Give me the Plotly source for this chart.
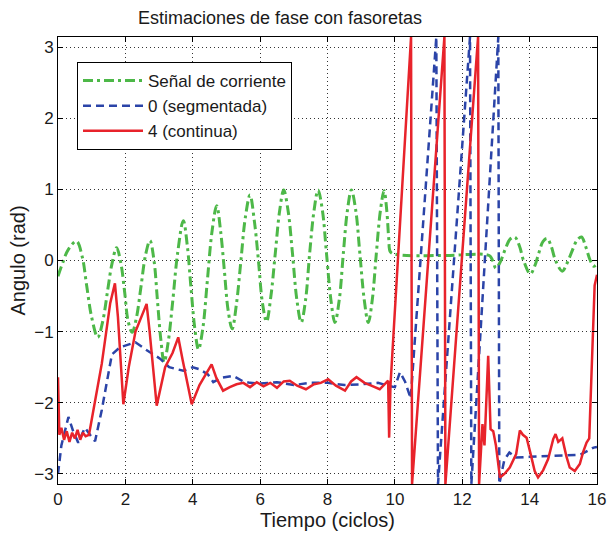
import plotly.graph_objects as go

# ---- data ----
title_text = "Estimaciones de fase con fasoretas"
x_label = "Tiempo (ciclos)"
y_label = "Angulo (rad)"
series_names = ["Señal de corriente", "0 (segmentada)", "4 (continua)"]

x_ticks = [0, 2, 4, 6, 8, 10, 12, 14, 16]
y_ticks = [-3, -2, -1, 0, 1, 2, 3]

green_t = [0.0, 0.15, 0.3, 0.55, 0.72, 0.85, 1.0, 1.18, 1.33, 1.48, 1.6, 1.74, 1.87, 1.98,
           2.08, 2.2, 2.33, 2.46, 2.6, 2.73, 2.85, 2.95, 3.05, 3.15, 3.27, 3.4, 3.55, 3.72,
           3.84, 3.95, 4.06, 4.17, 4.3, 4.43, 4.57, 4.71, 4.83, 4.94, 5.05, 5.17, 5.3, 5.43,
           5.56, 5.7, 5.83, 5.95, 6.07, 6.19, 6.32, 6.45, 6.58, 6.7, 6.83, 6.96, 7.09, 7.22,
           7.35, 7.47, 7.6, 7.72, 7.85, 7.97, 8.1, 8.22, 8.35, 8.47, 8.59, 8.71, 8.84, 8.96,
           9.09, 9.21, 9.33, 9.45, 9.57, 9.68, 9.76, 9.82, 9.87, 10.1, 11.5, 12.8, 12.9, 13.0,
           13.13, 13.27, 13.42, 13.56, 13.7, 13.82, 14.02, 14.15, 14.27, 14.4, 14.52, 14.64,
           14.77, 14.97, 15.1, 15.25, 15.4, 15.54, 15.66, 15.8, 15.9, 16.0]
green_v = [-0.22, -0.02, 0.15, 0.27, 0.05, -0.35, -0.8, -1.08, -0.85, -0.4, -0.05, 0.18, -0.05,
           -0.45, -0.85, -1.01, -0.8, -0.38, 0.08, 0.28, 0.0, -0.55, -1.1, -1.43, -1.15, -0.6,
           0.1, 0.56, 0.2, -0.4, -0.95, -1.25, -0.95, -0.3, 0.4, 0.77, 0.4, -0.15, -0.7, -0.96,
           -0.6, 0.0, 0.6, 0.92, 0.55, 0.0, -0.6, -0.86, -0.5, 0.1, 0.7, 0.99, 0.7, 0.1, -0.55,
           -0.87, -0.55, 0.1, 0.7, 0.99, 0.7, 0.1, -0.55, -0.87, -0.55, 0.1, 0.7, 0.99, 0.7,
           0.1, -0.55, -0.87, -0.55, 0.1, 0.7, 0.98, 0.7, 0.3, 0.12, 0.08, 0.07, 0.07, 0.0,
           -0.11, -0.02, 0.15, 0.3, 0.33, 0.2, 0.0, -0.19, -0.08, 0.1, 0.27, 0.31, 0.2, 0.0,
           -0.15, -0.05, 0.12, 0.28, 0.33, 0.2, 0.0, -0.08, -0.05]

blue_t = [0.0, 0.1, 0.31, 0.45, 0.6, 0.8, 0.95, 1.1, 1.3, 1.6, 1.84, 2.3, 2.6, 3.03, 3.3,
          3.6, 3.72, 4.0, 4.21, 4.45, 4.61, 4.85, 5.2, 5.5, 5.7, 6.0, 6.5, 7.0, 7.5, 8.0,
          8.5, 9.0, 9.5, 9.8, 10.0, 10.15, 10.3, 10.47, 11.23, 11.28, 12.23, 12.27, 13.07,
          13.1, 13.25, 13.4, 13.6, 14.0, 14.5, 15.0, 15.5, 15.9, 16.0]
blue_v = [-3.0, -2.6, -2.2, -2.4, -2.56, -2.35, -2.45, -2.54, -2.1, -1.32, -1.22, -1.15,
          -1.25, -1.38, -1.5, -1.53, -1.55, -1.5, -1.53, -1.6, -1.71, -1.65, -1.62, -1.7,
          -1.72, -1.73, -1.71, -1.75, -1.72, -1.72, -1.75, -1.74, -1.72, -1.76, -1.78,
          -1.57, -1.7, -1.94, 3.1416, -3.1416, 3.1416, -3.1416, 3.1416,
          -3.1416, -2.8, -2.7, -2.77, -2.76, -2.75, -2.75, -2.73, -2.63, -2.62]

red_t = [0.0, 0.04, 0.1, 0.18, 0.26, 0.34, 0.42, 0.5, 0.58, 0.66, 0.74, 0.82, 0.92, 1.3,
         1.55, 1.69, 1.78, 1.94, 2.1, 2.3, 2.63, 2.72, 2.93, 3.05, 3.18, 3.4, 3.57, 3.7,
         3.97, 4.2, 4.56, 4.7, 4.9, 5.1, 5.3, 5.5, 5.7, 5.9, 6.1, 6.3, 6.5, 6.7, 6.88,
         7.1, 7.36, 7.6, 7.8, 8.02, 8.25, 8.52, 8.7, 8.86, 9.1, 9.3, 9.55, 9.8, 9.83,
         9.87, 10.48, 10.51, 11.47, 11.5, 12.47, 12.5, 12.6, 12.66, 12.77, 12.84, 12.92,
         13.0, 13.12, 13.25, 13.41, 13.6, 13.71, 13.8, 13.91, 14.02, 14.15, 14.25, 14.4,
         14.55, 14.7, 14.77, 14.85, 14.97, 15.09, 15.19, 15.34, 15.49, 15.59, 15.69,
         15.77, 15.83, 15.93, 16.0]
red_v = [-1.64, -2.45, -2.35, -2.52, -2.4, -2.55, -2.42, -2.5, -2.38, -2.52, -2.42, -2.47,
         -2.45, -1.45, -0.6, -0.32, -0.8, -2.02, -1.5, -1.0, -0.61, -1.0, -2.04, -1.8,
         -1.5, -1.3, -1.08, -1.4, -2.02, -1.75, -1.46, -1.65, -1.83, -1.78, -1.74, -1.72,
         -1.78, -1.71, -1.77, -1.72, -1.79, -1.7, -1.69, -1.76, -1.81, -1.74, -1.72,
         -1.67, -1.76, -1.83, -1.7, -1.64, -1.72, -1.76, -1.81, -1.69, -2.49, -1.75,
         3.1416, -3.1416, 3.1416, -3.1416, 3.1416, -3.1416, -2.3, -2.6, -1.34, -2.37,
         -2.4, -2.6, -3.05, -3.0, -2.91, -2.72, -2.39, -2.45, -2.49, -2.7, -2.96, -3.05,
         -2.95, -2.79, -2.51, -2.44, -2.55, -2.5, -2.75, -2.91, -2.96, -2.86, -2.69,
         -2.56, -2.5, -1.69, -0.35, -0.2]

# ---- styles ----
GREEN = "#4DB848"
BLUE = "#2B44A8"
RED = "#E8232B"
FONT = "Liberation Sans, Arial, sans-serif"
TXT = "#1a1a1a"

fig = go.Figure()
fig.add_trace(go.Scatter(x=green_t, y=green_v, mode="lines", name=series_names[0],
                         legendgroup="g", line=dict(color=GREEN, width=3,
                         dash="10px,4px,3px,4px", shape="spline", smoothing=1.0)))
fig.add_trace(go.Scatter(x=blue_t, y=blue_v, mode="lines", name=series_names[1],
                         legendgroup="b", line=dict(color=BLUE, width=2.5, dash="8px,5px")))
fig.add_trace(go.Scatter(x=red_t, y=red_v, mode="lines", name=series_names[2],
                         legendgroup="r", line=dict(color=RED, width=2.5)))

axis_common = dict(showline=True, linecolor="black", linewidth=1, mirror="ticks",
                   ticks="inside", ticklen=5, tickcolor="black", showgrid=True,
                   gridcolor="#333", griddash="1px,3px", gridwidth=1, zeroline=False,
                   automargin=False,
                   tickfont=dict(family=FONT, size=17, color=TXT))

fig.update_xaxes(range=[0, 16], tickvals=x_ticks, **axis_common,
                 title=dict(text=x_label, font=dict(family=FONT, size=20, color=TXT), standoff=4))
fig.update_yaxes(range=[-3.1416, 3.1416], tickvals=y_ticks, **axis_common,
                 title=dict(text=y_label, font=dict(family=FONT, size=20, color=TXT), standoff=3))

fig.update_layout(
    width=607, height=535,
    margin=dict(l=58, r=10, t=37, b=51),
    paper_bgcolor="white", plot_bgcolor="white",
    title=dict(text=title_text, font=dict(family=FONT, size=18, color=TXT),
               x=280 / 607, xanchor="center", xref="container",
               y=1 - 18 / 535, yanchor="middle", yref="container"),
    legend=dict(x=19 / 539, y=1 - 25 / 447, xanchor="left", yanchor="top",
                bgcolor="white", bordercolor="black", borderwidth=1,
                font=dict(family=FONT, size=17, color=TXT),
                itemwidth=60, tracegroupgap=0, traceorder="grouped",
                entrywidth=163),
    showlegend=True,
)

fig.write_html("out.html")
